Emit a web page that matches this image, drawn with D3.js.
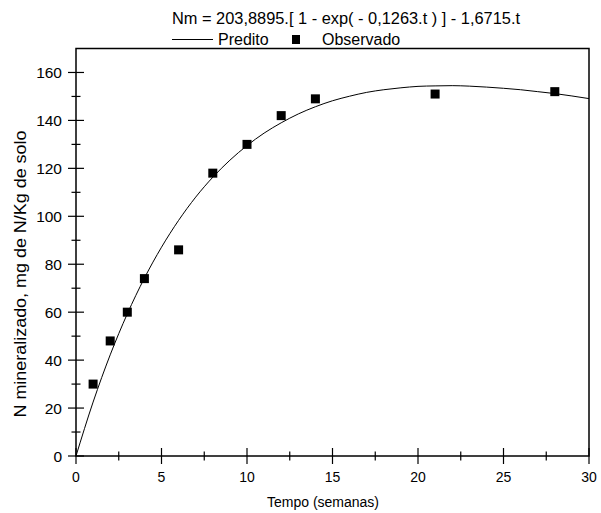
<!DOCTYPE html>
<html lang="pt">
<head>
    <meta charset="utf-8">
    <title>N mineralizado</title>
    <script src="https://d3js.org/d3.v7.min.js"></script>
    <style>
        body { margin: 0; background: #fff; }
        svg text { font-family: Arial, "Liberation Sans", sans-serif; font-size: 14px; fill: #000; }
    </style>
</head>
<body>
    <svg id="chart" width="601" height="513"></svg>
    <script>
        // Observed points
        const tObs = [1, 2, 3, 4, 6, 8, 10, 12, 14, 21, 28];
        const nObs = [30, 48, 60, 74, 86, 118, 130, 142, 149, 151, 152];

        // Predicted curve, read at whole weeks
        const tPred = [0, 1, 2, 3, 4, 5, 6, 7, 8, 9, 10, 11, 12, 13, 14, 15,
                       16, 17, 18, 19, 20, 21, 22, 23, 24, 25, 26, 27, 28, 29, 30];
        const nPred = [0, 22.5, 42.2, 59.3, 74.2, 87.1, 98.3, 108.0, 116.3, 123.4, 129.5,
                       134.7, 139.0, 142.7, 145.7, 148.2, 150.1, 151.7, 152.8, 153.6, 154.2,
                       154.4, 154.5, 154.3, 153.9, 153.4, 152.8, 152.0, 151.2, 150.2, 149.1];

        const xTicks = [0, 5, 10, 15, 20, 25, 30];
        const yTicks = [0, 20, 40, 60, 80, 100, 120, 140, 160];

        const titleText = "Nm = 203,8895.[ 1 - exp( - 0,1263.t ) ] - 1,6715.t";

        const svg = d3.select("#chart");
        const pL = 76, pR = 589, pT = 48.5, pB = 456;

        const x = d3.scaleLinear().domain([0, 30]).range([pL, pR]);
        const y = d3.scaleLinear().domain([0, 170]).range([pB, pT]);

        // frame
        svg.append("rect")
            .attr("x", pL).attr("y", pT)
            .attr("width", pR - pL).attr("height", pB - pT)
            .attr("fill", "none").attr("stroke", "#000").attr("stroke-width", 1.5);

        // x axis ticks (crossing the axis)
        const xMinor = d3.range(0, 30.01, 2.5).filter(v => v % 5 !== 0);
        const gx = svg.append("g");
        gx.selectAll("line.maj").data(xTicks).join("line")
            .attr("class", "maj")
            .attr("x1", d => x(d)).attr("x2", d => x(d))
            .attr("y1", pB - 8).attr("y2", pB + 8)
            .attr("stroke", "#000").attr("stroke-width", 1.2);
        gx.selectAll("line.min").data(xMinor).join("line")
            .attr("class", "min")
            .attr("x1", d => x(d)).attr("x2", d => x(d))
            .attr("y1", pB - 4.5).attr("y2", pB + 4.5)
            .attr("stroke", "#000").attr("stroke-width", 1.2);
        gx.selectAll("text").data(xTicks).join("text")
            .attr("x", d => x(d)).attr("y", pB + 26)
            .attr("text-anchor", "middle").text(d => d);

        // y axis ticks
        const yMinor = d3.range(10, 170, 20);
        const gy = svg.append("g");
        gy.selectAll("line.maj").data(yTicks).join("line")
            .attr("class", "maj")
            .attr("x1", pL - 8).attr("x2", pL + 8)
            .attr("y1", d => y(d)).attr("y2", d => y(d))
            .attr("stroke", "#000").attr("stroke-width", 1.2);
        gy.selectAll("line.min").data(yMinor).join("line")
            .attr("class", "min")
            .attr("x1", pL - 4.5).attr("x2", pL + 4.5)
            .attr("y1", d => y(d)).attr("y2", d => y(d))
            .attr("stroke", "#000").attr("stroke-width", 1.2);
        gy.selectAll("text").data(yTicks).join("text")
            .attr("x", pL - 14).attr("y", d => y(d) + 5.5)
            .attr("text-anchor", "end")
            .style("font-size", "15.5px")
            .text(d => d);

        // predicted curve
        const line = d3.line()
            .x((d, i) => x(tPred[i]))
            .y(d => y(d))
            .curve(d3.curveMonotoneX);
        svg.append("path")
            .datum(nPred)
            .attr("d", line)
            .attr("fill", "none")
            .attr("stroke", "#000")
            .attr("stroke-width", 1);

        // observed squares
        const sq = 9;
        svg.selectAll("rect.obs").data(nObs).join("rect")
            .attr("class", "obs")
            .attr("x", (d, i) => x(tObs[i]) - sq / 2)
            .attr("y", d => y(d) - sq / 2)
            .attr("width", sq).attr("height", sq)
            .attr("fill", "#000");

        // axis titles
        svg.append("text")
            .attr("x", 323).attr("y", 507)
            .attr("text-anchor", "middle").text("Tempo (semanas)");
        svg.append("text")
            .attr("transform", "translate(25.5,274) rotate(-90)")
            .attr("text-anchor", "middle")
            .style("font-size", "16px")
            .attr("textLength", 287)
            .attr("lengthAdjust", "spacingAndGlyphs")
            .text("N mineralizado, mg de N/Kg de solo");

        // title and legend
        svg.append("text")
            .attr("x", 172).attr("y", 24)
            .style("font-size", "16px")
            .attr("textLength", 348)
            .attr("lengthAdjust", "spacingAndGlyphs")
            .text(titleText);
        svg.append("line")
            .attr("x1", 172).attr("x2", 213).attr("y1", 39.5).attr("y2", 39.5)
            .attr("stroke", "#000").attr("stroke-width", 1);
        svg.append("text").attr("x", 218).attr("y", 45)
            .style("font-size", "16px").text("Predito");
        svg.append("rect")
            .attr("x", 292).attr("y", 35).attr("width", 8).attr("height", 9)
            .attr("fill", "#000");
        svg.append("text").attr("x", 322).attr("y", 45)
            .style("font-size", "16px").text("Observado");
    </script>
</body>
</html>
